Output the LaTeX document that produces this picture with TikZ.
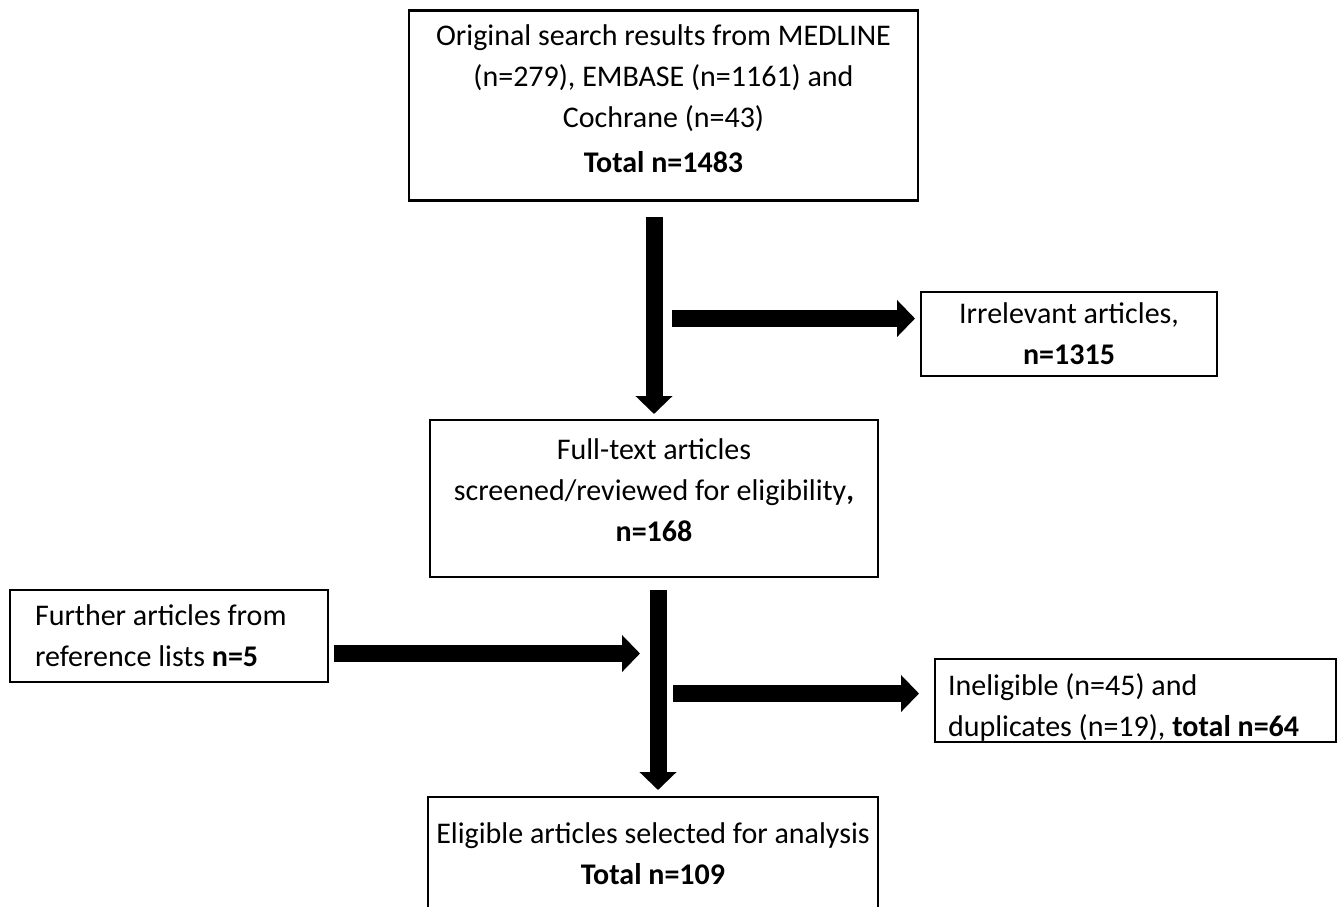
\documentclass[tikz,border=0pt]{standalone}
\usepackage{fontspec}
\setmainfont{Carlito}
\usetikzlibrary{arrows.meta, positioning}

\begin{document}
\begin{tikzpicture}[
    x=0.5pt,
    y=-0.5pt,
    box/.style={draw, line width=1pt, align=center, inner sep=0pt,
        font=\fontsize{15pt}{20.5pt}\selectfont},
    sidebox/.style={box, align=flush left},
    flow/.style={line width=8.5pt, -{Triangle[width=18pt, length=9pt]}},
]
    \useasboundingbox (0,0) rectangle (1343,906);

    \node[box, line width=1.4pt, minimum width=254.5pt, minimum height=95pt]  (search)   at (663.5,105.5)
        {Original search results from MEDLINE\\(n=279), EMBASE (n=1161) and\\Cochrane (n=43)\\[2pt]\textbf{Total n=1483}\rule[-6.5pt]{0pt}{6.5pt}};
    \node[box, minimum width=148pt, minimum height=42pt]                      (irrel)    at (1069,334)
        {Irrelevant articles,\\\textbf{n=1315}};
    \node[box, minimum width=224pt, minimum height=78.5pt]                    (fulltext) at (654,498.5)
        {Full-text articles\\screened/reviewed for eligibility\textbf{,}\\\textbf{n=168}\rule[-8pt]{0pt}{8pt}};
    \node[sidebox, inner xsep=12.5pt, text width=134pt, minimum height=46pt]  (further)  at (169,636)
        {Further articles from\\reference lists \textbf{n=5}};
    \node[sidebox, inner xsep=6.5pt, text width=187.5pt, minimum height=41.5pt] (inelig) at (1135.5,700.5)
        {\rule{0pt}{18pt}Ineligible (n=45) and\\duplicates (n=19), \textbf{total n=64}};
    \node[box, minimum width=225pt, minimum height=56.5pt]                    (eligible) at (653,853.5)
        {Eligible articles selected for analysis\\\textbf{Total n=109}};

    \coordinate (split1) at (672,318.5);
    \coordinate (merge)  at (640,653.5);
    \coordinate (split2) at (673,693.5);

    \draw[flow, shorten <=7.5pt, shorten >=2.5pt] (search.south -| fulltext.north) -- (fulltext.north);
    \draw[flow, shorten >=2.5pt] (split1) -- (split1 -| irrel.west);
    \draw[flow, shorten <=6pt, shorten >=3pt] ([xshift=2pt]fulltext.south) -- ([xshift=2pt]fulltext.south |- eligible.north);
    \draw[flow, shorten <=2.5pt] (further.east |- merge) -- (merge);
    \draw[flow, shorten >=7.5pt] (split2) -- (split2 -| inelig.west);
\end{tikzpicture}
\end{document}
